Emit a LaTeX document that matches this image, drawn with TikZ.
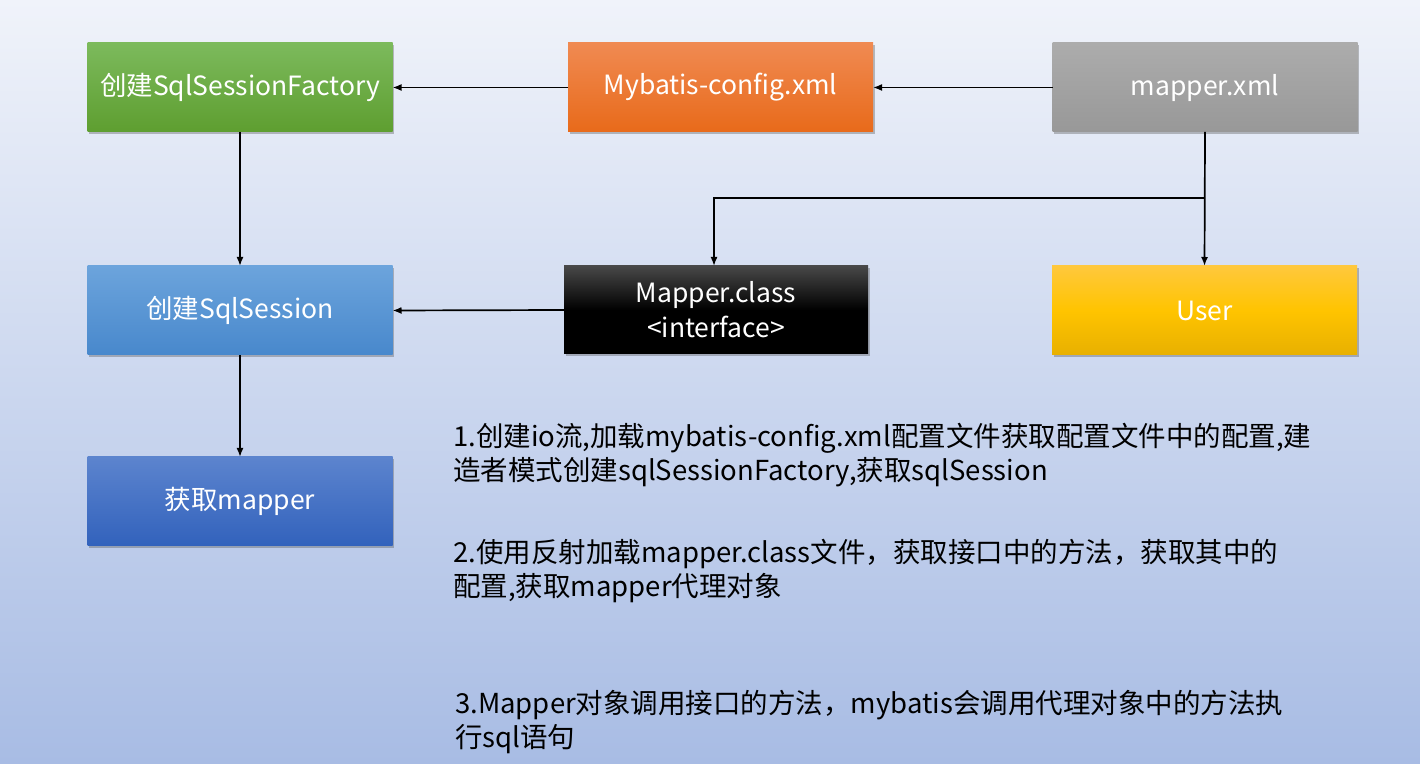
\documentclass[tikz,border=0pt]{standalone}
\usepackage{fontspec}
\setmainfont{Noto Sans CJK SC}
\usetikzlibrary{arrows.meta,shadows}
\begin{document}
\begin{tikzpicture}[x=1pt,y=1pt,
  box/.style={minimum width=305pt,minimum height=89pt,inner sep=0pt,outer sep=0pt,
    text=white,font=\fontsize{26.5}{35}\selectfont,align=center,
    drop shadow={shadow xshift=1.5pt,shadow yshift=-2.5pt,opacity=0.35,fill=black!70}},
  arr/.style={line width=1.7pt,-{Latex[length=9pt,width=7pt]}},
  para/.style={anchor=north west,inner sep=0pt,align=left,text=black,
    font=\fontsize{27.5}{34}\selectfont}]
\definecolor{bgtop}{RGB}{240,243,250}
\definecolor{bgbot}{RGB}{168,188,228}
\shade[top color=bgtop,bottom color=bgbot] (0,0) rectangle (1420,763);
\useasboundingbox (0,0) rectangle (1420,763);

\node[box,top color={rgb,255:red,124;green,186;blue,92},bottom color={rgb,255:red,94;green,158;blue,48}] (fac) at (240,675.5) {创建SqlSessionFactory};
\node[box,top color={rgb,255:red,240;green,138;blue,82},bottom color={rgb,255:red,232;green,106;blue,26}] (cfg) at (720.5,675.5) {Mybatis-config.xml};
\node[box,top color={rgb,255:red,172;green,172;blue,172},bottom color={rgb,255:red,152;green,152;blue,152}] (mxml) at (1205,675.5) {mapper.xml};
\node[box,top color={rgb,255:red,108;green,164;blue,220},bottom color={rgb,255:red,72;green,136;blue,204}] (ses) at (240,452.5) {创建SqlSession};
\node[box,minimum width=304pt,minimum height=88pt,top color={rgb,255:red,72;green,72;blue,72},bottom color=black,middle color=black] (mcls) at (716,453) {Mapper.class\\<interface>};
\node[box,top color={rgb,255:red,255;green,200;blue,60},bottom color={rgb,255:red,232;green,176;blue,0},middle color={rgb,255:red,255;green,196;blue,0}] (user) at (1204.5,452.5) {User};
\node[box,top color={rgb,255:red,92;green,132;blue,206},bottom color={rgb,255:red,50;green,98;blue,188}] (get) at (240,261.5) {获取mapper};

\coordinate (j) at (1205,565);
\draw[arr] (cfg.west) -- (fac.east);
\draw[arr] (mxml.west) -- (cfg.east);
\draw[arr] (fac.south) -- (ses.north);
\draw[arr] (ses.south) -- (get.north);
\draw[arr] (mcls.west) -- (ses.east);
\draw[arr] (mxml.south) -- (user.north);
\draw[arr] (j) -| ([xshift=-2pt]mcls.north);

\node[para] (t1) at (453,340) {1.创建io流,加载mybatis-config.xml配置文件获取配置文件中的配置,建\\造者模式创建sqlSessionFactory,获取sqlSession};
\node[para] (t2) at (453,224) {2.使用反射加载mapper.class文件，获取接口中的方法，获取其中的\\配置,获取mapper代理对象};
\node[para] (t3) at (455,73) {3.Mapper对象调用接口的方法，mybatis会调用代理对象中的方法执\\行sql语句};
\end{tikzpicture}
\end{document}
